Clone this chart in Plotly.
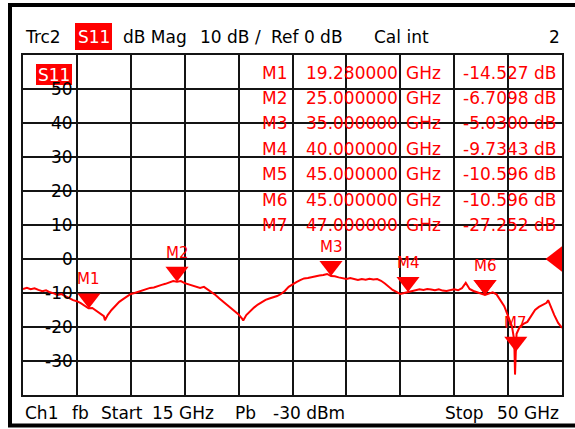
import plotly.graph_objects as go

# ---------------- data ----------------
f_start, f_stop = 15.0, 50.0          # GHz
y_min, y_max = -40.0, 60.0            # dB

freq = [15.00, 15.25, 15.50, 15.75, 16.00, 16.25, 16.50, 16.75, 17.00, 17.25,
        17.50, 17.75, 18.00, 18.25, 18.50, 18.75, 19.00, 19.25, 19.50, 19.75,
        20.00, 20.25, 20.32, 20.50, 20.75, 21.00, 21.25, 21.50, 21.75, 22.00,
        22.25, 22.50, 22.75, 23.00, 23.25, 23.50, 23.75, 24.00, 24.25, 24.50,
        24.75, 25.00, 25.25, 25.50, 25.75, 26.00, 26.25, 26.50, 26.75, 27.00,
        27.25, 27.50, 27.75, 28.00, 28.25, 28.50, 28.75, 29.00, 29.25, 29.30,
        29.50, 29.75, 30.00, 30.25, 30.50, 30.75, 31.00, 31.25, 31.50, 31.75,
        32.00, 32.25, 32.50, 32.75, 33.00, 33.25, 33.50, 33.75, 34.00, 34.25,
        34.50, 34.75, 35.00, 35.25, 35.50, 35.75, 36.00, 36.25, 36.50, 36.75,
        37.00, 37.25, 37.50, 37.75, 38.00, 38.25, 38.50, 38.75, 39.00, 39.25,
        39.50, 39.75, 40.00, 40.25, 40.50, 40.75, 41.00, 41.25, 41.50, 41.75,
        42.00, 42.25, 42.50, 42.75, 43.00, 43.25, 43.50, 43.75, 44.00, 44.25,
        44.50, 44.75, 45.00, 45.25, 45.50, 45.75, 46.00, 46.25, 46.50, 46.75,
        46.90, 46.95, 47.00, 47.05, 47.25, 47.50, 47.75, 48.00, 48.25, 48.50,
        48.75, 49.00, 49.10, 49.25, 49.50, 49.75, 50.00]

s11_db = [-8.8, -8.5, -8.9, -8.6, -9.1, -9.5, -9.2, -9.8, -10.1, -10.6,
          -10.3, -11.0, -11.5, -12.1, -12.4, -13.0, -13.7, -14.5, -14.4, -15.2,
          -15.9, -16.8, -18.0, -16.5, -15.0, -13.8, -12.6, -11.8, -11.0, -10.3,
          -10.0, -9.6, -9.1, -8.9, -8.5, -8.4, -7.9, -7.6, -7.3, -6.9,
          -6.5, -6.71, -6.5, -7.1, -7.4, -7.8, -8.1, -8.5, -8.2, -9.0,
          -9.7, -10.6, -11.6, -12.5, -13.5, -14.3, -15.3, -16.3, -17.7, -18.1,
          -16.5, -15.3, -14.3, -13.4, -12.6, -12.0, -11.6, -11.3, -10.9, -10.3,
          -9.4, -8.2, -7.4, -6.8, -6.2, -5.7, -5.6, -5.3, -5.0, -4.85,
          -4.7, -4.4, -5.03, -5.1, -5.4, -5.6, -5.9, -5.6, -6.0, -6.2,
          -5.9, -6.1, -5.8, -6.0, -5.9, -6.4, -7.2, -8.2, -9.1, -9.7,
          -10.3, -10.0, -9.73, -9.5, -9.2, -8.9, -9.1, -8.8, -9.0, -9.2,
          -8.9, -9.3, -9.4, -9.2, -8.9, -9.2, -8.6, -7.0, -8.8, -9.4,
          -9.8, -10.1, -10.6, -10.2, -9.8, -10.4, -12.0, -13.9, -16.8, -19.8,
          -23.9, -34.0, -27.25, -22.0, -20.0, -19.1, -18.5, -16.8, -15.0, -14.1,
          -13.5, -12.9, -12.1, -13.8, -16.5, -18.8, -20.3]

marker_names = ["M1", "M2", "M3", "M4", "M5", "M6", "M7"]
marker_freq = [19.28, 25.0, 35.0, 40.0, 45.0, 45.0, 47.0]
marker_db = [-14.527, -6.7098, -5.0300, -9.7343, -10.596, -10.596, -27.252]
marker_freq_txt = ["19.280000", "25.000000", "35.000000", "40.000000",
                   "45.000000", "45.000000", "47.000000"]
marker_db_txt = ["-14.527 dB", "-6.7098 dB", "-5.0300 dB", "-9.7343 dB",
                 "-10.596 dB", "-10.596 dB", "-27.252 dB"]

y_tick_vals = [50, 40, 30, 20, 10, 0, -10, -20, -30]
y_tick_text = ["50", "40", "30", "20", "10", "0", "-10", "-20", "-30"]

ref_level = 0.0

header_items = [("Trc2", 25), ("dB Mag", 123), ("10 dB /", 200),
                ("Ref 0 dB", 271), ("Cal int", 374)]
footer_items = [("Ch1", 25), ("fb", 72), ("Start", 101), ("15 GHz", 152),
                ("Pb", 235), ("-30 dBm", 273), ("Stop", 445), ("50 GHz", 497)]

# ---------------- layout geometry ----------------
W, H = 575, 429
L, R, T, B = 23, 13, 55, 34
PW, PH = W - L - R, H - T - B
px_per_db = PH / (y_max - y_min)
px_per_ghz = PW / (f_stop - f_start)

RED = "#ff0000"
GRID = "#141414"
FONT = "DejaVu Sans"


def xp(x):  # pixel x -> paper
    return (x - L) / PW


def yp(y):  # pixel y (from top) -> paper
    return (H - B - y) / PH


fig = go.Figure()

# main trace
fig.add_trace(go.Scatter(x=freq, y=s11_db, mode="lines",
                         line=dict(color=RED, width=2), hoverinfo="skip"))

# marker triangles: tip at the marker value
tri_size = 20
tip_off_db = (tri_size / 2) / px_per_db
fig.add_trace(go.Scatter(
    x=marker_freq, y=[d + tip_off_db for d in marker_db], mode="markers",
    marker=dict(symbol="triangle-down", size=tri_size, color=RED,
                line=dict(width=0)),
    cliponaxis=False, hoverinfo="skip"))

# reference level triangle at right edge
ref_size = 22
fig.add_trace(go.Scatter(
    x=[f_stop - (ref_size / 4) / px_per_ghz], y=[ref_level], mode="markers",
    marker=dict(symbol="triangle-left", size=ref_size, color=RED,
                line=dict(width=0)),
    cliponaxis=False, hoverinfo="skip"))

shapes = []
annotations = []

# white backgrounds for y labels (between grid and traces)
for v in y_tick_vals:
    shapes.append(dict(type="rect", layer="between", xref="paper", yref="y",
                       x0=xp(42), x1=xp(76), ysizemode="pixel", yanchor=v,
                       y0=-8, y1=8, fillcolor="white", line=dict(width=0)))
for v, t in zip(y_tick_vals, y_tick_text):
    annotations.append(dict(xref="paper", yref="y", x=xp(73), y=v, text=t,
                            xanchor="right", yanchor="middle", showarrow=False,
                            font=dict(family=FONT, size=17, color="black"),
                            borderpad=0, borderwidth=0))

# marker labels above triangles (later markers at same freq hide earlier ones)
for i, (n, f, d) in enumerate(zip(marker_names, marker_freq, marker_db)):
    if any(marker_freq[j] == f for j in range(i + 1, len(marker_freq))):
        continue
    annotations.append(dict(xref="x", yref="y", x=f, y=d, yshift=29, text=n,
                            showarrow=False, xanchor="center", yanchor="middle",
                            font=dict(family=FONT, size=15, color=RED)))

# marker table
for i in range(len(marker_names)):
    yy = 72.7 + 25.4 * i
    fnt = dict(family=FONT, size=17, color=RED)
    annotations.append(dict(xref="paper", yref="paper", x=xp(287), y=yp(yy),
                            text=marker_names[i], xanchor="right", yanchor="middle",
                            showarrow=False, font=fnt, borderpad=0, borderwidth=0))
    annotations.append(dict(xref="paper", yref="paper", x=xp(398), y=yp(yy),
                            text=marker_freq_txt[i], xanchor="right", yanchor="middle",
                            showarrow=False, font=fnt, borderpad=0, borderwidth=0))
    annotations.append(dict(xref="paper", yref="paper", x=xp(406), y=yp(yy),
                            text="GHz", xanchor="left", yanchor="middle",
                            showarrow=False, font=fnt, borderpad=0, borderwidth=0))
    annotations.append(dict(xref="paper", yref="paper", x=xp(556), y=yp(yy),
                            text=marker_db_txt[i], xanchor="right", yanchor="middle",
                            showarrow=False, font=fnt, borderpad=0, borderwidth=0))

# S11 box inside the plot
shapes.append(dict(type="rect", xref="paper", yref="paper", layer="above",
                   x0=xp(36), x1=xp(72), y0=yp(85), y1=yp(64),
                   fillcolor=RED, line=dict(width=0)))
annotations.append(dict(xref="paper", yref="paper", x=xp(54), y=yp(74.5),
                        text="S11", showarrow=False, xanchor="center", yanchor="middle",
                        font=dict(family=FONT, size=17, color="white")))

# header
hy = yp(37)
for t, x in header_items:
    annotations.append(dict(xref="paper", yref="paper", x=xp(x), y=hy, text=t,
                            xanchor="left", yanchor="middle", showarrow=False,
                            font=dict(family=FONT, size=17, color="black"),
                            borderpad=0, borderwidth=0))
shapes.append(dict(type="rect", xref="paper", yref="paper",
                   x0=xp(75), x1=xp(112), y0=yp(50), y1=yp(23),
                   fillcolor=RED, line=dict(width=0)))
annotations.append(dict(xref="paper", yref="paper", x=xp(93.5), y=hy, text="S11",
                        xanchor="center", yanchor="middle", showarrow=False,
                        font=dict(family=FONT, size=17, color="white")))
annotations.append(dict(xref="paper", yref="paper", x=xp(560), y=hy, text="2",
                        xanchor="right", yanchor="middle", showarrow=False,
                        font=dict(family=FONT, size=17, color="black"),
                        borderpad=0, borderwidth=0))

# footer
fy = yp(413)
for t, x in footer_items:
    annotations.append(dict(xref="paper", yref="paper", x=xp(x), y=fy, text=t,
                            xanchor="left", yanchor="middle", showarrow=False,
                            font=dict(family=FONT, size=17, color="black"),
                            borderpad=0, borderwidth=0))

# outer frame
shapes.append(dict(type="rect", xref="paper", yref="paper",
                   x0=xp(10), x1=xp(580), y0=yp(425.5), y1=yp(5),
                   fillcolor="rgba(0,0,0,0)", line=dict(color="black", width=4)))

axis_common = dict(showgrid=True, gridcolor=GRID, gridwidth=1.5,
                   showticklabels=False, ticks="", zeroline=False,
                   showline=True, mirror=True, linecolor=GRID, linewidth=1.5,
                   fixedrange=True)

fig.update_layout(
    width=W, height=H,
    margin=dict(l=L, r=R, t=T, b=B, pad=0),
    paper_bgcolor="white", plot_bgcolor="white",
    showlegend=False,
    xaxis=dict(range=[f_start, f_stop], tick0=f_start,
               dtick=(f_stop - f_start) / 10, **axis_common),
    yaxis=dict(range=[y_min, y_max], tick0=y_min, dtick=10, **axis_common),
    shapes=shapes, annotations=annotations,
)

fig.write_html("out.html", config={"displayModeBar": False},
               post_script="document.body.style.margin='0';"
                           "document.body.style.padding='0';"
                           "document.body.style.overflow='hidden';")
